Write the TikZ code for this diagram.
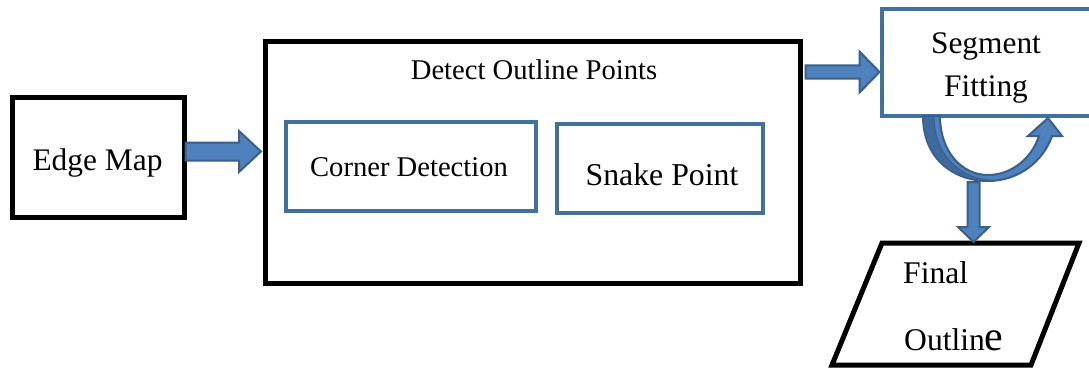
\documentclass[tikz,border=0pt]{standalone}
\usepackage{fontspec}
\setmainfont{Liberation Serif}
\usetikzlibrary{calc}
\definecolor{boxblue}{HTML}{41719C}
\definecolor{arrowfill}{HTML}{4F81BD}
\definecolor{arrowdraw}{HTML}{3A5F8B}
\definecolor{arrowdark}{HTML}{3F6A9E}
\tikzset{
  blackbox/.style={draw=black,line width=5pt,inner sep=0pt,outer sep=0pt,fill=white},
  bluebox/.style={draw=boxblue,line width=4pt,inner sep=0pt,outer sep=0pt,fill=white},
  blockarrow/.style={fill=arrowfill,draw=arrowdraw,line width=2pt,line join=miter},
  lbl/.style={inner sep=0pt,anchor=base},
}
% horizontal block arrow: #1 start, #2 end, #3 shaft half, #4 head half, #5 head length
\newcommand\hblockarrow[5]{%
  \draw[blockarrow] let \p1=(#1), \p2=(#2) in
    (\x1,\y1+#3) -- (\x2-#5,\y1+#3) -- (\x2-#5,\y1+#4) -- (\x2,\y1)
    -- (\x2-#5,\y1-#4) -- (\x2-#5,\y1-#3) -- (\x1,\y1-#3) -- cycle;}
% vertical (downward) block arrow
\newcommand\vblockarrow[5]{%
  \draw[blockarrow] let \p1=(#1), \p2=(#2) in
    (\x1-#3,\y1) -- (\x1-#3,\y2+#5) -- (\x1-#4,\y2+#5) -- (\x1,\y2)
    -- (\x1+#4,\y2+#5) -- (\x1+#3,\y2+#5) -- (\x1+#3,\y1) -- cycle;}
\begin{document}
\begin{tikzpicture}[x=1pt,y=-1pt]
\useasboundingbox (0,0) rectangle (1089,369);
\clip (0,0) rectangle (1089,369);
\fill[white] (0,0) rectangle (1089,369);

% boxes
\node[blackbox,minimum width=171.5pt,minimum height=120pt] (edge) at (98.25,157.5) {};
\node[blackbox,minimum width=535.5pt,minimum height=241.5pt] (detect) at (532.75,162.75) {};
\node[bluebox,minimum width=250.5pt,minimum height=89.5pt] (corner) at (410.75,166.25) {};
\node[bluebox,minimum width=206pt,minimum height=89.5pt] (snake) at (660,168.25) {};
\node[bluebox,minimum width=210pt,minimum height=106pt] (segment) at (986.5,62.5) {};
% parallelogram
\draw[black,line width=5pt,line join=miter,fill=white]
  (882,243) coordinate (finaltl) -- (1079,243) -- (1031,365) -- (832,365) -- cycle;
\coordinate (finaltop) at (973.5,243);

% texts
\node[lbl,font=\fontsize{31.4}{36}\selectfont] (tedge) at (97.5,170.7) {Edge Map};
\node[lbl,font=\fontsize{28.6}{34}\selectfont] (tdetect) at (534,80) {Detect Outline Points};
\node[lbl,font=\fontsize{28.6}{34}\selectfont] (tcorner) at (409,176.7) {Corner Detection};
\node[lbl,font=\fontsize{31.8}{36}\selectfont] (tsnake) at (662,185) {Snake Point};
\node[lbl,font=\fontsize{31.4}{36}\selectfont] (tseg1) at (986,53) {Segment};
\node[lbl,font=\fontsize{31.4}{36}\selectfont] (tseg2) at (986,96) {Fitting};
\node[lbl,anchor=base west,font=\fontsize{31.6}{36}\selectfont] (tfin1) at (903,283) {Final};
\node[lbl,anchor=base west,font=\fontsize{31.6}{36}\selectfont] (tfin2) at (904,350) {Outlin{\fontsize{42}{42}\selectfont e}};

% connectors
\coordinate (a1s) at ($(edge.east |- 0,151.5)+(1.5,0)$);
\coordinate (a1e) at ($(detect.west |- 0,151.5)+(-4,0)$);
\hblockarrow{a1s}{a1e}{9pt}{20.5pt}{22pt}

\coordinate (a2s) at ($(detect.east |- 0,72)+(5,0)$);
\coordinate (a2e) at ($(segment.west |- 0,72)+(-2,0)$);
\hblockarrow{a2s}{a2e}{6.5pt}{20.5pt}{20pt}

% curved U-turn arrow below Segment Fitting
\draw[blockarrow] (923,116) .. controls (923,160) and (955,181) .. (988,181)
   .. controls (1018,181) and (1043,162) .. (1052,136) -- (1062,136) -- (1048,118)
   -- (1028,136) -- (1039,136) .. controls (1031,160) and (1010,175) .. (988,175)
   .. controls (962,175) and (940,152) .. (940,116) -- cycle;
\fill[arrowdark] (924,117) .. controls (924,159) and (955,179.5) .. (988,180)
   .. controls (962,178) and (934,156) .. (934,117) -- cycle;
\draw[arrowdraw,line width=1pt] (934,117) .. controls (934,156) and (962,178) .. (988,180);

\coordinate (a3s) at (973.5,182);
\coordinate (a3e) at ($(finaltop)+(0,-1)$);
\vblockarrow{a3s}{a3e}{6pt}{15.5pt}{15pt}
\end{tikzpicture}
\end{document}
